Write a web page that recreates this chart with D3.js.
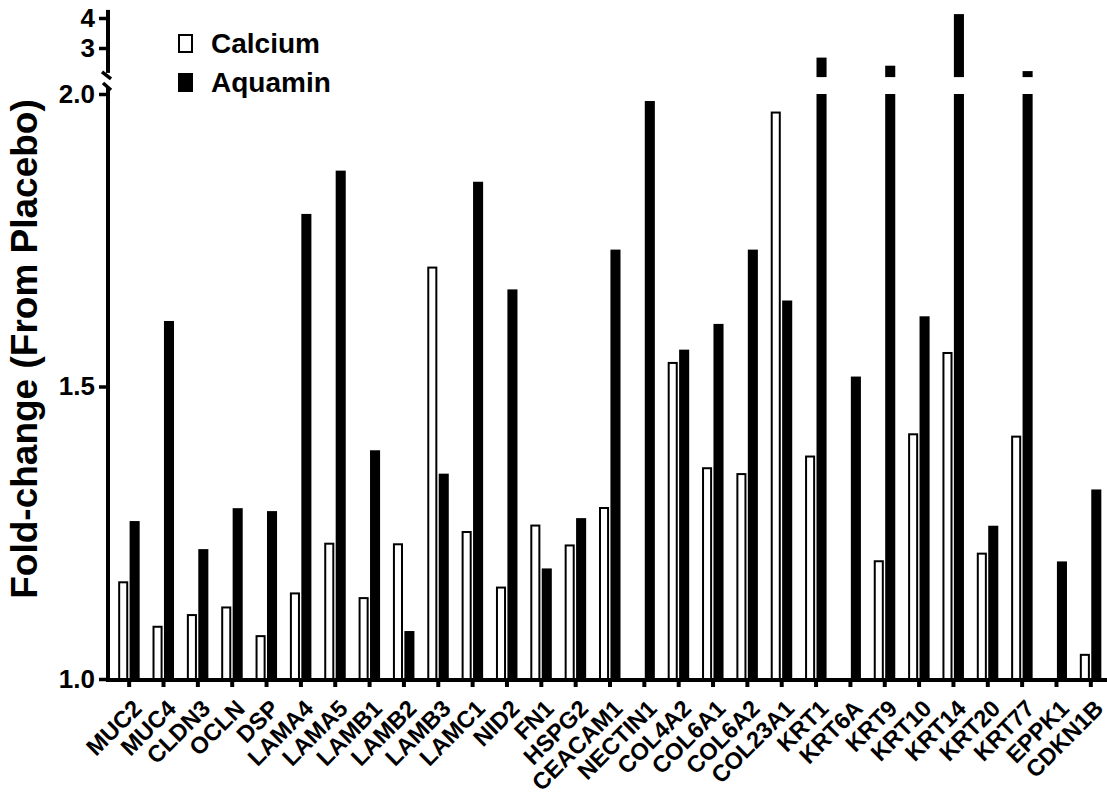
<!DOCTYPE html>
<html>
<head>
<meta charset="utf-8">
<script src="https://cdn.jsdelivr.net/npm/d3@7"></script>
<style>
body { margin: 0; background: #fff; }
svg text { font-family: "Liberation Sans", Arial, sans-serif; font-weight: bold; fill: #000; }
</style>
</head>
<body>
<svg class="chart"></svg>
<script>
var genes = ["MUC2", "MUC4", "CLDN3", "OCLN", "DSP", "LAMA4", "LAMA5", "LAMB1", "LAMB2", "LAMB3",
    "LAMC1", "NID2", "FN1", "HSPG2", "CEACAM1", "NECTIN1", "COL4A2", "COL6A1", "COL6A2", "COL23A1",
    "KRT1", "KRT6A", "KRT9", "KRT10", "KRT14", "KRT20", "KRT77", "EPPK1", "CDKN1B"];

var calcium = [1.167, 1.091, 1.111, 1.124, 1.075, 1.148, 1.233, 1.140, 1.232, 1.705,
    1.253, 1.158, 1.264, 1.230, 1.294, null, 1.542, 1.362, 1.352, 1.970,
    1.382, null, 1.203, 1.420, 1.559, 1.216, 1.416, null, 1.043];

var aquamin = [1.270, 1.612, 1.222, 1.292, 1.287, 1.795, 1.869, 1.391, 1.082, 1.351,
    1.850, 1.666, 1.189, 1.275, 1.734, 1.988, 1.563, 1.607, 1.734, 1.647,
    2.68, 1.517, 2.41, 1.620, 4.13, 1.262, 2.23, 1.201, 1.324];

var seriesNames = ["Calcium", "Aquamin"];
var lowTicks = [1.0, 1.5, 2.0];
var highTicks = [3, 4];

var width = 1107, height = 793;
var axisX = 108;

var svg = d3.select(".chart")
    .attr("width", width)
    .attr("height", height);

// broken y axis: two linear pieces
var yLow = d3.scaleLinear().domain([1, 2]).range([679, 94]);
var yHigh = d3.scaleLinear().domain([2, 4]).range([78, 18]);
var highBase = 2.03;      // lowest value shown in the upper piece

var x = d3.scaleBand().domain(genes).range([112, 1108]);
var xIn = d3.scaleBand().domain(seriesNames).range([-11, 10.5]).paddingInner(0.12);

var rows = genes.map(function(g, i) {
    return [
        {gene: g, series: "Calcium", value: calcium[i]},
        {gene: g, series: "Aquamin", value: aquamin[i]}
    ];
}).reduce(function(a, b) { return a.concat(b); }, [])
  .filter(function(d) { return d.value != null; });

function barX(d) {
    return x(d.gene) + x.bandwidth() / 2 + xIn(d.series);
}

var bars = svg.append("g");

// lower piece
bars.selectAll(".low").data(rows).enter().append("rect")
    .attr("class", "low")
    .attr("x", function(d) { return d.series === "Calcium" ? barX(d) + 1 : barX(d); })
    .attr("width", function(d) { return d.series === "Calcium" ? xIn.bandwidth() - 2 : xIn.bandwidth(); })
    .attr("y", function(d) {
        var t = yLow(Math.min(d.value, 2));
        return d.series === "Calcium" ? t + 1 : t;
    })
    .attr("height", function(d) {
        var t = yLow(Math.min(d.value, 2));
        return yLow(1) - t - (d.series === "Calcium" ? 1 : 0);
    })
    .attr("fill", function(d) { return d.series === "Calcium" ? "#fff" : "#000"; })
    .attr("stroke", function(d) { return d.series === "Calcium" ? "#000" : "none"; })
    .attr("stroke-width", 2);

// upper piece
bars.selectAll(".high").data(rows.filter(function(d) { return d.value > 2; })).enter().append("rect")
    .attr("class", "high")
    .attr("x", barX)
    .attr("width", xIn.bandwidth())
    .attr("y", function(d) { return yHigh(d.value); })
    .attr("height", function(d) { return yHigh(highBase) - yHigh(d.value); })
    .attr("fill", "#000");

// x axis
var xAxis = svg.append("g")
    .attr("transform", "translate(0," + yLow(1) + ")")
    .call(d3.axisBottom(x).tickSize(8).tickSizeOuter(0));
xAxis.select(".domain").remove();
xAxis.append("line")
    .attr("x1", axisX - 2).attr("x2", width)
    .attr("y1", 1).attr("y2", 1)
    .attr("stroke", "#000").attr("stroke-width", 4);
xAxis.selectAll(".tick line").attr("stroke", "#000").attr("stroke-width", 4);
xAxis.selectAll(".tick text")
    .attr("x", 0).attr("y", 0).attr("dy", "0.72em")
    .attr("transform", "translate(2,19) rotate(-45)")
    .style("text-anchor", "end")
    .style("font-size", "23.5px")
    .style("font-family", "'Liberation Sans', Arial, sans-serif")
    .style("font-weight", "bold");

// y axis, lower piece
var yAxisLow = svg.append("g")
    .attr("transform", "translate(" + axisX + ",0)")
    .call(d3.axisLeft(yLow).tickValues(lowTicks).tickFormat(d3.format(".1f")).tickSize(9).tickSizeOuter(0));
yAxisLow.select(".domain").remove();
yAxisLow.append("line")
    .attr("x1", 0).attr("x2", 0)
    .attr("y1", yLow(2) - 6).attr("y2", yLow(1) + 3)
    .attr("stroke", "#000").attr("stroke-width", 4);

// y axis, upper piece
var yAxisHigh = svg.append("g")
    .attr("transform", "translate(" + axisX + ",0)")
    .call(d3.axisLeft(yHigh).tickValues(highTicks).tickFormat(d3.format("d")).tickSize(9).tickSizeOuter(0));
yAxisHigh.select(".domain").remove();
yAxisHigh.append("line")
    .attr("x1", 0).attr("x2", 0)
    .attr("y1", yHigh(4.27)).attr("y2", yHigh(2.17))
    .attr("stroke", "#000").attr("stroke-width", 4);

[yAxisLow, yAxisHigh].forEach(function(ax) {
    ax.selectAll(".tick line").attr("stroke", "#000").attr("stroke-width", 3.5);
    ax.selectAll(".tick text")
        .attr("x", -13)
        .style("font-size", "26px")
        .style("font-family", "'Liberation Sans', Arial, sans-serif")
        .style("font-weight", "bold");
});

// break marks
var breaks = svg.append("g").attr("stroke", "#000").attr("stroke-width", 3.5).attr("fill", "none");
breaks.append("path")
    .attr("d", "M" + (axisX - 6) + "," + (yHigh(2.17) - 1) + "L" + (axisX + 3) + "," + (yHigh(2.17) + 6));
breaks.append("path")
    .attr("d", "M" + (axisX - 5) + "," + (yLow(2) - 11) + "L" + (axisX + 3) + "," + (yLow(2) - 4));

// y title
svg.append("text")
    .attr("transform", "translate(37," + 349 + ") rotate(-90)")
    .attr("text-anchor", "middle")
    .style("font-size", "37px")
    .text("Fold-change (From Placebo)");

// legend
var legend = svg.append("g").attr("transform", "translate(178,34)");
var item = legend.selectAll("g").data(seriesNames).enter().append("g")
    .attr("transform", function(d, i) { return "translate(0," + (i * 39) + ")"; });
item.append("rect")
    .attr("x", function(d, i) { return i === 0 ? 1 : 0; })
    .attr("y", function(d, i) { return i === 0 ? 1 : 0; })
    .attr("width", function(d, i) { return i === 0 ? 13 : 15; })
    .attr("height", function(d, i) { return i === 0 ? 17 : 19; })
    .attr("fill", function(d, i) { return i === 0 ? "#fff" : "#000"; })
    .attr("stroke", function(d, i) { return i === 0 ? "#000" : "none"; })
    .attr("stroke-width", 2);
item.append("text")
    .attr("x", 33).attr("y", 19)
    .style("font-size", "28px")
    .text(function(d) { return d; });
</script>
</body>
</html>
